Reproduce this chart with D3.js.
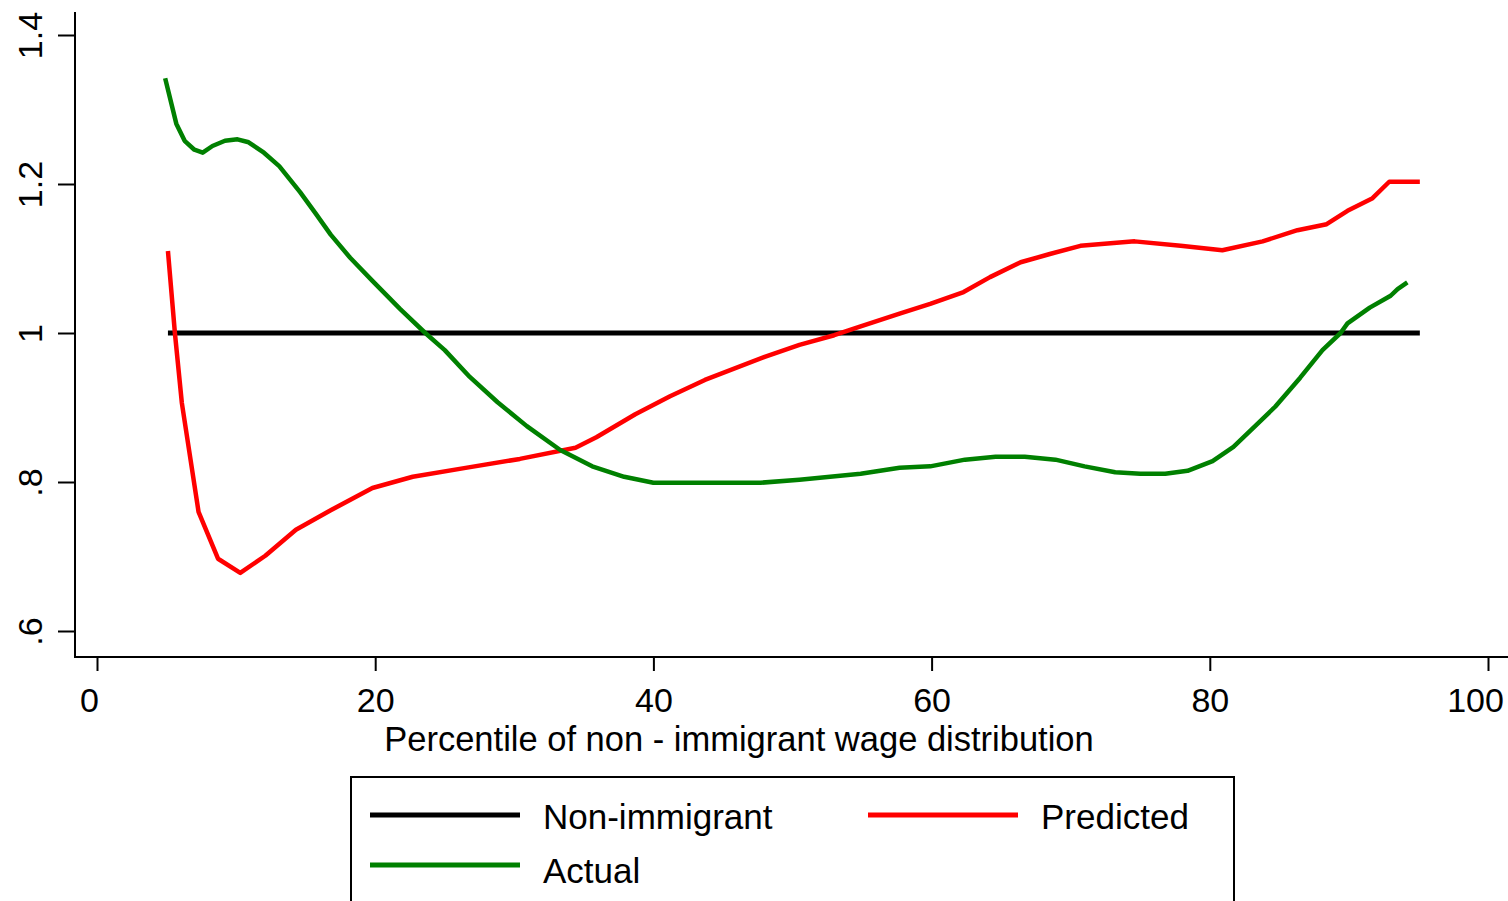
<!DOCTYPE html>
<html>
<head>
<meta charset="utf-8">
<script src="https://cdn.jsdelivr.net/npm/d3@7"></script>
<style>
  html, body { margin: 0; padding: 0; background: #fff; overflow: hidden; }
  svg { display: block; font-family: "Liberation Sans", Arial, Helvetica, sans-serif; }
</style>
</head>
<body>
<svg id="chart" width="1508" height="901"></svg>
<script>
// Percentile of non-immigrant wage distribution (x) and relative wage ratio (y)
const actualX = [4.9, 5.7, 6.3, 7.0, 7.6, 8.3, 9.2, 10.1, 10.9, 12.0, 13.1, 14.6, 15.7, 16.8, 18.2, 19.8, 21.8, 23.6, 25.0, 26.8, 28.8, 30.9, 33.3, 35.6, 37.9, 40.0, 43.4, 47.7, 50.5, 54.9, 57.7, 59.9, 62.4, 64.6, 66.7, 68.9, 71.0, 73.2, 75.0, 76.8, 78.4, 80.2, 81.7, 83.2, 84.7, 86.5, 88.1, 89.4, 89.9, 91.5, 93.0, 93.5, 94.2];
const actualY = [1.342, 1.281, 1.258, 1.246, 1.242, 1.251, 1.258, 1.260, 1.256, 1.242, 1.224, 1.189, 1.161, 1.132, 1.101, 1.070, 1.032, 1.000, 0.977, 0.941, 0.907, 0.875, 0.843, 0.821, 0.807, 0.799, 0.799, 0.799, 0.803, 0.811, 0.819, 0.821, 0.830, 0.834, 0.834, 0.830, 0.821, 0.813, 0.811, 0.811, 0.815, 0.828, 0.847, 0.874, 0.901, 0.940, 0.977, 1.000, 1.013, 1.034, 1.050, 1.059, 1.068];

const predictedX = [5.1, 5.6, 6.1, 7.3, 8.7, 10.3, 12.1, 14.3, 16.8, 19.8, 22.7, 26.5, 30.4, 34.4, 35.9, 38.7, 41.2, 43.7, 48.0, 50.5, 53.0, 54.9, 57.7, 59.9, 62.3, 64.2, 66.4, 68.5, 70.7, 74.6, 77.9, 80.9, 83.8, 86.3, 88.4, 89.9, 91.7, 92.9, 95.1];
const predictedY = [1.110, 1.000, 0.906, 0.760, 0.697, 0.678, 0.701, 0.736, 0.762, 0.792, 0.807, 0.819, 0.831, 0.846, 0.860, 0.891, 0.915, 0.937, 0.968, 0.984, 0.997, 1.009, 1.026, 1.039, 1.055, 1.075, 1.095, 1.106, 1.117, 1.123, 1.117, 1.111, 1.123, 1.138, 1.146, 1.164, 1.181, 1.203, 1.203];

const nonImmigrantX = [5.1, 95.1];
const nonImmigrantY = [1, 1];

const xTicks = [0, 20, 40, 60, 80, 100];
const yTicks = [0.6, 0.8, 1.0, 1.2, 1.4];
const yTickLabels = [".6", ".8", "1", "1.2", "1.4"];

const xTitle = "Percentile of non - immigrant wage distribution";
const legendItems = [
  { name: "Non-immigrant", color: "#000000" },
  { name: "Predicted", color: "#ff0000" },
  { name: "Actual", color: "#008000" }
];

const svg = d3.select("#chart");

const x = d3.scaleLinear().domain([0, 100]).range([97, 1488]);
const y = d3.scaleLinear().domain([0.6, 1.4]).range([631, 35]);

const axisLeftX = 75;
const axisBottomY = 657;

// axis lines
svg.append("line")
  .attr("x1", axisLeftX).attr("x2", axisLeftX)
  .attr("y1", 12).attr("y2", axisBottomY + 1)
  .attr("stroke", "#000").attr("stroke-width", 2);
svg.append("line")
  .attr("x1", axisLeftX - 1).attr("x2", 1508)
  .attr("y1", axisBottomY).attr("y2", axisBottomY)
  .attr("stroke", "#000").attr("stroke-width", 2);

// y axis ticks + labels
const yAxis = d3.axisLeft(y).tickValues(yTicks)
  .tickFormat((d, i) => yTickLabels[i]).tickSize(17).tickPadding(0);
const gy = svg.append("g").attr("transform", `translate(${axisLeftX},0)`).call(yAxis);
gy.select(".domain").remove();
gy.selectAll(".tick line").attr("stroke", "#000").attr("stroke-width", 2);
gy.selectAll(".tick text")
  .attr("x", null).attr("dy", null)
  .attr("transform", "translate(-33,0) rotate(-90)")
  .attr("text-anchor", "middle")
  .attr("font-size", 34)
  .attr("fill", "#000");

// x axis ticks + labels
const xAxis = d3.axisBottom(x).tickValues(xTicks).tickSize(14).tickPadding(0);
const gx = svg.append("g").attr("transform", `translate(0,${axisBottomY})`).call(xAxis);
gx.select(".domain").remove();
gx.selectAll(".tick line").attr("stroke", "#000").attr("stroke-width", 2);
gx.selectAll(".tick text")
  .attr("y", 55).attr("dy", null)
  .attr("text-anchor", "middle")
  .attr("font-size", 34)
  .attr("fill", "#000");
// the outer labels sit slightly left of their ticks
gx.selectAll(".tick text").filter(d => d === 0).attr("x", -8);
gx.selectAll(".tick text").filter(d => d === 100).attr("x", -13);

// x axis title
svg.append("text")
  .attr("x", 739).attr("y", 750.5)
  .attr("text-anchor", "middle")
  .attr("font-size", 34.5)
  .text(xTitle);

// series
const line = d3.line().x(d => x(d[0])).y(d => y(d[1]));
const zip = (a, b) => a.map((v, i) => [v, b[i]]);

svg.append("path").datum(zip(nonImmigrantX, nonImmigrantY))
  .attr("d", line).attr("fill", "none")
  .attr("stroke", "#000").attr("stroke-width", 5);
svg.append("path").datum(zip(predictedX, predictedY))
  .attr("d", line).attr("fill", "none")
  .attr("stroke", "#ff0000").attr("stroke-width", 4.5).attr("stroke-linejoin", "round");
svg.append("path").datum(zip(actualX, actualY))
  .attr("d", line).attr("fill", "none")
  .attr("stroke", "#008000").attr("stroke-width", 4.5).attr("stroke-linejoin", "round");

// legend
const lg = svg.append("g");
lg.append("rect")
  .attr("x", 351).attr("y", 777).attr("width", 883).attr("height", 200)
  .attr("fill", "#fff").attr("stroke", "#000").attr("stroke-width", 2);
const legendPos = [
  { lx: 370, ly: 815, ty: 829 },
  { lx: 868, ly: 815, ty: 829 },
  { lx: 370, ly: 865, ty: 883 }
];
legendItems.forEach((item, i) => {
  const p = legendPos[i];
  lg.append("line")
    .attr("x1", p.lx).attr("x2", p.lx + 150)
    .attr("y1", p.ly).attr("y2", p.ly)
    .attr("stroke", item.color).attr("stroke-width", 5);
  lg.append("text")
    .attr("x", p.lx + 173).attr("y", p.ty)
    .attr("font-size", 35)
    .text(item.name);
});
</script>
</body>
</html>
